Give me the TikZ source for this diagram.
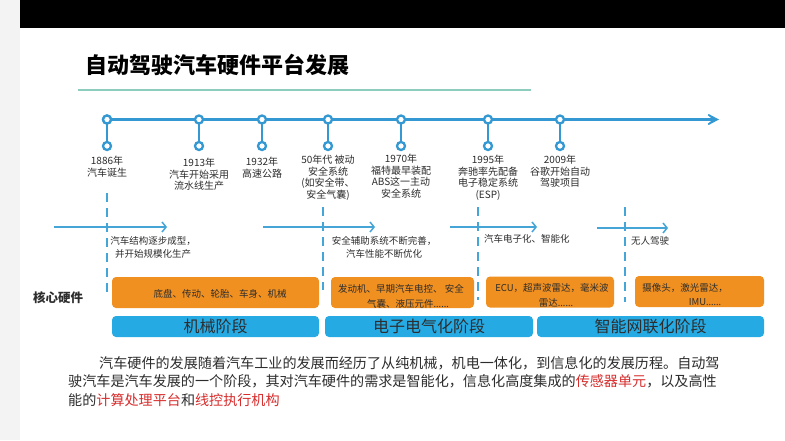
\documentclass[tikz,border=0pt]{standalone}
\usepackage{fontspec}
\setmainfont{Noto Sans CJK SC}
\newfontfamily\latinfont{Noto Sans}
\usetikzlibrary{arrows.meta}
\definecolor{tlblue}{RGB}{52,152,210}
\definecolor{lblue}{RGB}{70,165,215}
\definecolor{orng}{RGB}{240,144,32}
\definecolor{sky}{RGB}{38,170,228}
\definecolor{tealline}{RGB}{140,205,190}
\definecolor{txt}{RGB}{45,45,45}
\definecolor{redt}{RGB}{215,45,45}
\definecolor{sidegray}{RGB}{243,243,243}
\newcommand{\dotsx}{{\latinfont ……}}
\begin{document}
\begin{tikzpicture}[x=1pt,y=-1pt,
  lab/.style={font=\fontsize{10}{11.5}\selectfont, text=txt, align=center, anchor=north, inner sep=0pt},
  ring/.style={circle, draw=tlblue, fill=white, line width=2.3pt, minimum size=8pt, inner sep=0pt},
  stem/.style={draw=tlblue, line width=2.2pt},
  dashv/.style={draw=lblue, line width=2pt, dash pattern=on 9pt off 6pt},
  harrow/.style={draw=lblue, line width=1.5pt, -{Straight Barb[length=4pt,width=10pt]}},
  note/.style={font=\fontsize{9.5}{13}\selectfont, text=txt, inner sep=0pt},
  obox/.style={fill=orng, rounded corners=4pt, inner sep=0pt},
  bbox/.style={fill=sky, rounded corners=4pt, inner sep=0pt, minimum height=21pt, font=\fontsize{16}{18}\selectfont, text=txt},
  otext/.style={font=\fontsize{9.5}{11}\selectfont, text=txt, inner sep=0pt},
  para/.style={font=\fontsize{14.1}{16}\selectfont, text=txt, inner sep=0pt, anchor=west}
]
\useasboundingbox (0,0) rectangle (785,440);
\fill[white] (0,0) rectangle (785,440);
\fill[sidegray] (0,0) rectangle (20,440);
\fill[black] (20,0) rectangle (785,28);

% title
\node[anchor=west, inner sep=0pt, font=\fontsize{22}{24}\selectfont\bfseries] (title) at (85,65) {自动驾驶汽车硬件平台发展};
\coordinate (ulA) at (78,90);
\coordinate (ulB) at (531,90);
\draw[tealline, line width=2pt] (ulA) -- (ulB);

% timeline
\coordinate (tip) at (719,119.5);
\node[ring] (t1) at (107,119.5) {};
\draw[tlblue, line width=3pt, -{Stealth[length=17pt,width=18pt,inset=11pt]}] (t1.center) -- (tip);
\foreach \n/\x in {t1/107,t2/199,t3/262,t4/328,t5/401,t6/488,t7/560}{
  \node[ring] (\n b) at (\x,146) {};
  \draw[stem] (\x,119.5) -- (\n b);
  \node[ring] (\n) at (\x,119.5) {};
}

% labels
\node[lab] (l1) at (107,156) {1886年\\汽车诞生};
\node[lab] (l2) at (199,158) {1913年\\汽车开始采用\\流水线生产};
\node[lab] (l3) at (262,157) {1932年\\高速公路};
\node[lab] (l4) at (328,155) {50年代 被动\\安全系统\\(如安全带、\\安全气囊)};
\node[lab] (l5) at (401,154) {1970年\\福特最早装配\\ABS这一主动\\安全系统};
\node[lab] (l6) at (488,155) {1995年\\奔驰率先配备\\电子稳定系统\\(ESP)};
\node[lab] (l7) at (560,155) {2009年\\谷歌开始自动\\驾驶项目};

% dashed separators
\coordinate (d1a) at (107,193); \coordinate (d1b) at (107,293);
\coordinate (d2a) at (323,207); \coordinate (d2b) at (323,290);
\coordinate (d3a) at (478,207); \coordinate (d3b) at (478,300);
\coordinate (d4a) at (625,207); \coordinate (d4b) at (625,302);
\draw[dashv] (d1a) -- (d1b);
\draw[dashv] (d2a) -- (d2b);
\draw[dashv] (d3a) -- (d3b);
\draw[dashv] (d4a) -- (d4b);

% horizontal arrows
\coordinate (h1a) at (54,227); \coordinate (h1b) at (167,227);
\coordinate (h2a) at (263,227); \coordinate (h2b) at (375,227);
\coordinate (h3a) at (450,227); \coordinate (h3b) at (537,227);
\coordinate (h4a) at (597,228); \coordinate (h4b) at (668,228);
\draw[harrow] (h1a) -- (h1b);
\draw[harrow] (h2a) -- (h2b);
\draw[harrow] (h3a) -- (h3b);
\draw[harrow] (h4a) -- (h4b);

\node[note, align=center, anchor=north] (n1) at (153,236) {汽车结构逐步成型，\\并开始规模化生产};
\node[note, align=center, anchor=north] (n2) at (384,236) {安全辅助系统不断完善，\\汽车性能不断优化};
\node[note, anchor=west] (n3) at (484,239) {汽车电子化、智能化};
\node[note, anchor=west] (n4) at (631,241) {无人驾驶};

% core hardware
\node[inner sep=0pt, font=\fontsize{12.5}{14}\selectfont\bfseries, text=txt] (core) at (58,298) {核心硬件};

% orange boxes
\node[obox, minimum width=207pt, minimum height=31pt] (o1) at (215.5,292.5) {};
\node[obox, minimum width=143pt, minimum height=31pt] (o2) at (402.5,292.5) {};
\node[obox, minimum width=128pt, minimum height=31pt] (o3) at (550,292) {};
\node[obox, minimum width=129pt, minimum height=31pt] (o4) at (699.5,291.5) {};
\node[otext] (o1t) at (220,294) {底盘、传动、轮胎、车身、机械};
\node[otext] (o2t1) at (401,289) {发动机、早期汽车电控、 安全};
\node[otext] (o2t2) at (408,303.5) {气囊、液压元件\dotsx};
\node[otext] (o3t1) at (552,288) {ECU，超声波雷达，毫米波};
\node[otext] (o3t2) at (556,302.5) {雷达\dotsx};
\node[otext] (o4t1) at (685,288) {摄像头，激光雷达，};
\node[otext] (o4t2) at (705,302.5) {IMU\dotsx};

% blue stage boxes
\node[bbox, minimum width=207pt] (s1) at (215.5,326.5) {机械阶段};
\node[bbox, minimum width=208pt] (s2) at (429,326.5) {电子电气化阶段};
\node[bbox, minimum width=227pt] (s3) at (650.5,326.5) {智能网联化阶段};

% paragraph
\node[para] (p1) at (99,363) {汽车硬件的发展随着汽车工业的发展而经历了从纯机械，机电一体化，到信息化的发展历程。自动驾};
\node[para] (p2) at (68,381.5) {驶汽车是汽车发展的一个阶段，其对汽车硬件的需求是智能化，信息化高度集成的\textcolor{redt}{传感器单元}，以及高性};
\node[para] (p3) at (68,400) {能的\textcolor{redt}{计算处理平台}和\textcolor{redt}{线控执行机构}};
\end{tikzpicture}
\end{document}
